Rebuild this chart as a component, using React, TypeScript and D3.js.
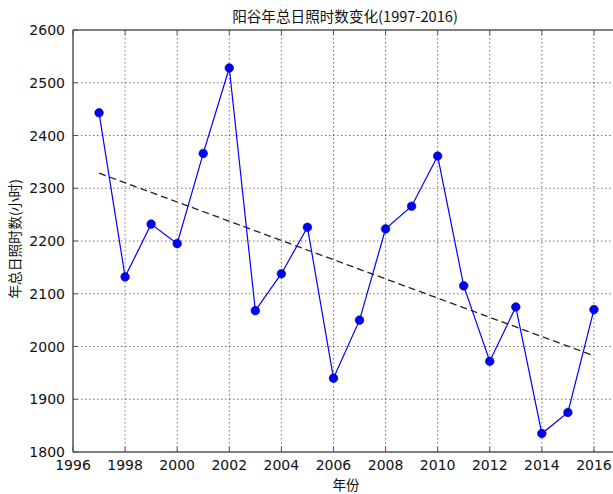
import React from "react";
import * as d3 from "d3";

const years = [1997, 1998, 1999, 2000, 2001, 2002, 2003, 2004, 2005, 2006, 2007, 2008, 2009, 2010, 2011, 2012, 2013, 2014, 2015, 2016];
const sunshineHours = [2443, 2132, 2232, 2195, 2366, 2528, 2068, 2138, 2226, 1940, 2050, 2223, 2266, 2361, 2115, 1972, 2075, 1835, 1875, 2070];
const xTicks = [1996, 1998, 2000, 2002, 2004, 2006, 2008, 2010, 2012, 2014, 2016];
const yTicks = [1800, 1900, 2000, 2100, 2200, 2300, 2400, 2500, 2600];
const titleText = "阳谷年总日照时数变化(1997-2016)";
const xLabelText = "年份";
const yLabelText = "年总日照时数(小时)";

const W = 613;
const H = 494;
const left = 73;
const right = 620;
const top = 30;
const bottom = 452;

export default function App() {
  const x = d3.scaleLinear().domain([1996, 2017]).range([left, right]);
  const y = d3.scaleLinear().domain([1800, 2600]).range([bottom, top]);
  const pts: [number, number][] = years.map((yr, i) => [yr, sunshineHours[i]]);
  const line = d3.line<[number, number]>().x(d => x(d[0])).y(d => y(d[1]));

  // least squares trend
  const mx = d3.mean(years)!;
  const my = d3.mean(sunshineHours)!;
  let num = 0, den = 0;
  years.forEach((yr, i) => { num += (yr - mx) * (sunshineHours[i] - my); den += (yr - mx) * (yr - mx); });
  const slope = num / den;
  const icpt = my - slope * mx;
  const x0 = years[0], x1 = years[years.length - 1];
  const trend: [number, number][] = [[x0, icpt + slope * x0], [x1, icpt + slope * x1]];

  const spine = "#555";
  const cjk = "'Noto Sans CJK SC', sans-serif";
  const num_font = "'DejaVu Sans', sans-serif";

  return (
    <div style={{ position: "absolute", left: 0, top: 0 }}>
      <svg width={W} height={H} style={{ display: "block", background: "#fff" }}>
        <rect x={0} y={0} width={W} height={H} fill="#fff" />
        {/* grid */}
        <g stroke="#000" strokeOpacity={0.55} strokeWidth={1} strokeDasharray="1.5,2.5">
          {xTicks.slice(1).map(t => (
            <line key={"gx" + t} x1={x(t)} x2={x(t)} y1={top} y2={bottom} />
          ))}
          {yTicks.slice(1, -1).map(t => (
            <line key={"gy" + t} x1={left} x2={right} y1={y(t)} y2={y(t)} />
          ))}
        </g>
        {/* trend */}
        <path d={line(trend)!} fill="none" stroke="#222" strokeWidth={1.3} strokeDasharray="7,4" />
        {/* data line */}
        <path d={line(pts)!} fill="none" stroke="#0000ff" strokeWidth={1.2} />
        {pts.map((p, i) => (
          <circle key={i} cx={x(p[0])} cy={y(p[1])} r={4.3} fill="#0000ff" stroke="#00007a" strokeWidth={0.6} />
        ))}
        {/* spines */}
        <g stroke={spine} strokeWidth={1.5} fill="none">
          <line x1={left} x2={left} y1={top} y2={bottom} />
          <line x1={left} x2={right} y1={bottom} y2={bottom} />
          <line x1={left} x2={right} y1={top} y2={top} />
          <line x1={right} x2={right} y1={top} y2={bottom} />
        </g>
        {/* ticks */}
        <g stroke={spine} strokeWidth={1}>
          {xTicks.map(t => (
            <g key={"tx" + t}>
              <line x1={x(t)} x2={x(t)} y1={bottom} y2={bottom - 5} />
              <line x1={x(t)} x2={x(t)} y1={top} y2={top + 5} />
            </g>
          ))}
          {yTicks.map(t => (
            <line key={"ty" + t} x1={left} x2={left + 5} y1={y(t)} y2={y(t)} />
          ))}
        </g>
        {/* tick labels */}
        <g fontFamily={num_font} fontSize={14} fill="#111">
          {xTicks.map(t => (
            <text key={"lx" + t} x={x(t)} y={bottom + 18} textAnchor="middle">{t}</text>
          ))}
          {yTicks.map(t => (
            <text key={"ly" + t} x={left - 8} y={y(t) + 5} textAnchor="end">{t}</text>
          ))}
        </g>
        {/* title and axis labels */}
        <text x={345} y={22} textAnchor="middle" fontFamily={cjk} fontSize={14.6} fill="#111">{titleText}</text>
        <text x={346} y={490} textAnchor="middle" fontFamily={cjk} fontSize={13.5} fill="#111">{xLabelText}</text>
        <text transform={`translate(20,239) rotate(-90)`} textAnchor="middle" fontFamily={cjk} fontSize={13.8} fill="#111">{yLabelText}</text>
      </svg>
    </div>
  );
}
